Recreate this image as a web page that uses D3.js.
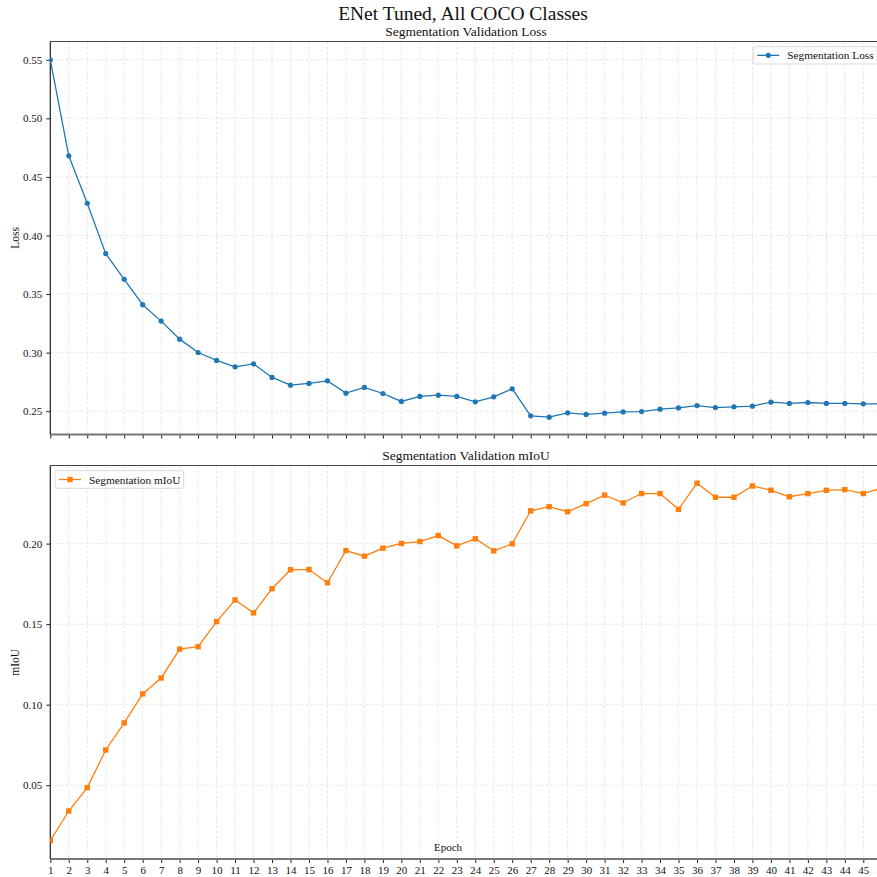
<!DOCTYPE html>
<html><head><meta charset="utf-8">
<script src="https://cdn.jsdelivr.net/npm/d3@7"></script>
<style>body{margin:0;background:#fff}svg{display:block}text{font-family:"Liberation Serif","DejaVu Serif",serif;fill:#111}</style>
</head><body>
<script>
const epochs = d3.range(1, 47);
const lossValues = [0.550,0.468,0.4275,0.3845,0.3626,0.3409,0.3269,0.3115,0.3001,0.2933,
  0.2879,0.2904,0.2788,0.2722,0.2737,0.2759,0.2654,0.2703,0.2651,0.2583,
  0.2626,0.2637,0.2626,0.2580,0.2623,0.2691,0.2460,0.2449,0.2486,0.2472,
  0.2483,0.2494,0.2497,0.2517,0.2528,0.2548,0.2531,0.2537,0.2543,0.2577,
  0.2566,0.2574,0.2566,0.2566,0.2563,0.2562];
const miouValues = [0.0156,0.0340,0.0485,0.0719,0.0887,0.1067,0.1166,0.1345,0.1360,0.1516,
  0.1650,0.1570,0.1720,0.1838,0.1839,0.1757,0.1957,0.1922,0.1972,0.2001,
  0.2013,0.2050,0.1986,0.2030,0.1955,0.1999,0.2204,0.2229,0.2198,0.2248,
  0.2301,0.2253,0.2311,0.2311,0.2213,0.2375,0.2288,0.2288,0.2358,0.2331,
  0.2291,0.2311,0.2331,0.2335,0.2311,0.2345];
const lossTicks = [0.25,0.30,0.35,0.40,0.45,0.50,0.55];
const miouTicks = [0.05,0.10,0.15,0.20];
const xTicks = d3.range(1, 47);

const W = 877, H = 877;
const svg = d3.select("body").append("svg").attr("width", W).attr("height", H);
const L = 50.3, R = 877;
const x = d3.scaleLinear().domain([1, 45]).range([L, 863.3]);

svg.append("text").attr("x", 463).attr("y", 19.5).attr("text-anchor","middle")
  .style("font-size","19.5px").text("ENet Tuned, All COCO Classes");

function panel(opts){
  const {top, bottom, domain, ticks, values, title, ylabel, color, marker, legend, legendBox, showXLabels, id} = opts;
  const y = d3.scaleLinear().domain(domain).range([bottom, top]);
  const g = svg.append("g");
  g.append("clipPath").attr("id", id).append("rect")
    .attr("x", L).attr("y", top).attr("width", R - L).attr("height", bottom - top);
  // grid
  g.append("g").selectAll("line").data(xTicks).join("line")
    .attr("x1", d => x(d)).attr("x2", d => x(d)).attr("y1", top).attr("y2", bottom)
    .attr("stroke", "#e0e0e0").attr("stroke-width", 0.8).attr("stroke-dasharray","3,2");
  g.append("g").selectAll("line").data(ticks).join("line")
    .attr("x1", L).attr("x2", R).attr("y1", d => y(d)).attr("y2", d => y(d))
    .attr("stroke", "#e0e0e0").attr("stroke-width", 0.8).attr("stroke-dasharray","3,2");
  // axes
  const yAxis = d3.axisLeft(y).tickValues(ticks).tickFormat(d3.format(".2f")).tickSize(4).tickPadding(4);
  const ya = g.append("g").attr("transform", `translate(${L},0)`).call(yAxis);
  ya.select(".domain").remove();
  ya.selectAll("text").style("font-size","11px").style("font-family",'"Liberation Serif",serif');
  ya.selectAll("line").attr("stroke","#222");
  const xAxis = d3.axisBottom(x).tickValues(xTicks).tickSize(4).tickPadding(3)
    .tickFormat(showXLabels ? d3.format("d") : () => "");
  const xa = g.append("g").attr("transform", `translate(0,${bottom})`).call(xAxis);
  xa.select(".domain").remove();
  xa.selectAll("text").style("font-size","11px").style("font-family",'"Liberation Serif",serif');
  xa.selectAll("line").attr("stroke","#222");
  // spines
  g.append("line").attr("x1", L).attr("x2", R).attr("y1", top).attr("y2", top).attr("stroke","#444").attr("stroke-width",1.2);
  g.append("line").attr("x1", L).attr("x2", R).attr("y1", bottom).attr("y2", bottom).attr("stroke","#777").attr("stroke-width",2);
  g.append("line").attr("x1", L).attr("x2", L).attr("y1", top).attr("y2", bottom).attr("stroke","#222").attr("stroke-width",1.2);
  // title
  g.append("text").attr("x", 466).attr("y", top - 6).attr("text-anchor","middle").style("font-size","13.5px").text(title);
  g.append("text").attr("transform", `translate(19,${(top+bottom)/2}) rotate(-90)`).attr("text-anchor","middle")
    .style("font-size","11.5px").text(ylabel);
  // data
  const data = epochs.map((e,i) => [e, values[i]]);
  const cg = g.append("g").attr("clip-path", `url(#${id})`);
  cg.append("path").datum(data).attr("fill","none").attr("stroke", color).attr("stroke-width",1.3)
    .attr("d", d3.line().x(d => x(d[0])).y(d => y(d[1])));
  if (marker === "circle") {
    cg.selectAll("circle").data(data).join("circle").attr("cx", d => x(d[0])).attr("cy", d => y(d[1]))
      .attr("r", 2.6).attr("fill", color);
  } else {
    cg.selectAll("rect.m").data(data).join("rect").attr("class","m")
      .attr("x", d => x(d[0]) - 2.7).attr("y", d => y(d[1]) - 2.7).attr("width", 5.4).attr("height", 5.4).attr("fill", color);
  }
  // legend
  const lb = legendBox;
  const lg = g.append("g");
  lg.append("rect").attr("x", lb[0]).attr("y", lb[1]).attr("width", lb[2]).attr("height", lb[3])
    .attr("rx", 2).attr("fill","#fff").attr("fill-opacity",0.85).attr("stroke","#d5d5d5").attr("stroke-width",0.9);
  const cy = lb[1] + lb[3]/2;
  lg.append("line").attr("x1", lb[0]+4).attr("x2", lb[0]+26).attr("y1", cy).attr("y2", cy).attr("stroke", color).attr("stroke-width",1.3);
  if (marker === "circle") lg.append("circle").attr("cx", lb[0]+15).attr("cy", cy).attr("r",2.6).attr("fill",color);
  else lg.append("rect").attr("x", lb[0]+15-2.7).attr("y", cy-2.7).attr("width",5.4).attr("height",5.4).attr("fill",color);
  lg.append("text").attr("x", lb[0]+34).attr("y", cy + 4).style("font-size","11.3px").text(legend);
  return y;
}

panel({id:"c1", top:41.5, bottom:434.5, domain:[0.2301,0.5656], ticks:lossTicks, values:lossValues,
  title:"Segmentation Validation Loss", ylabel:"Loss", color:"#1f77b4", marker:"circle",
  legend:"Segmentation Loss", legendBox:[753.3,46.7,124,17.3], showXLabels:false});
panel({id:"c2", top:465.5, bottom:859, domain:[0.0042,0.2485], ticks:miouTicks, values:miouValues,
  title:"Segmentation Validation mIoU", ylabel:"mIoU", color:"#ff7f0e", marker:"square",
  legend:"Segmentation mIoU", legendBox:[55,470.7,128.7,17.6], showXLabels:true});

svg.append("text").attr("x", 448).attr("y", 851).attr("text-anchor","middle").style("font-size","11px").text("Epoch");
</script>
</body></html>
